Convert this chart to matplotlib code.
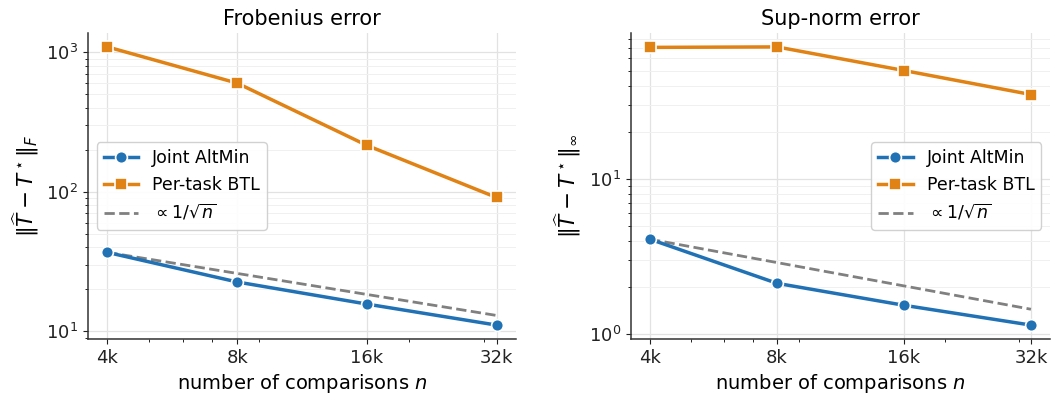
import numpy as np
import matplotlib
matplotlib.use("Agg")
import matplotlib.pyplot as plt
from matplotlib.ticker import FixedLocator, FixedFormatter, NullFormatter

# data
n_vals = [4000, 8000, 16000, 32000]
n_labels = ["4k", "8k", "16k", "32k"]

frob_joint = [36.8, 22.6, 15.7, 11.1]
frob_pertask = [1090, 600, 215, 91]

sup_joint = [4.08, 2.12, 1.53, 1.14]
sup_pertask = [70.5, 71.0, 50.0, 35.0]

BLUE = "#2171b5"
ORANGE = "#e08214"

plt.rcParams["font.family"] = "DejaVu Sans"
plt.rcParams["mathtext.fontset"] = "dejavusans"

fig, axes = plt.subplots(1, 2, figsize=(10.58, 4.0), dpi=100)
axes[0].set_position([88 / 1058, 61 / 400, 428 / 1058, 306 / 400])
axes[1].set_position([631 / 1058, 61 / 400, 419 / 1058, 306 / 400])

panels = [
    (axes[0], frob_joint, frob_pertask, "Frobenius error",
     r"$\|\widehat{T}-T^\star\|_F$", "center left"),
    (axes[1], sup_joint, sup_pertask, "Sup-norm error",
     r"$\|\widehat{T}-T^\star\|_\infty$", "center right"),
]

for ax, joint, pertask, title, ylabel, loc in panels:
    ax.set_xscale("log")
    ax.set_yscale("log")
    ax.plot(n_vals, joint, "-o", color=BLUE, lw=2.5, ms=8.5,
            mec="white", mew=1.2, label="Joint AltMin", zorder=3)
    ax.plot(n_vals, pertask, "-s", color=ORANGE, lw=2.5, ms=8.5,
            mec="white", mew=1.2, label="Per-task BTL", zorder=3)
    ref = joint[0] * np.sqrt(n_vals[0] / np.array(n_vals, dtype=float))
    ax.plot(n_vals, ref, "--", color="grey", lw=2, label=r"$\propto 1/\sqrt{n}$",
            zorder=2)

    ax.xaxis.set_major_locator(FixedLocator(n_vals))
    ax.xaxis.set_major_formatter(FixedFormatter(n_labels))
    ax.xaxis.set_minor_formatter(NullFormatter())

    ax.grid(True, which="major", color="#e2e2e2", lw=0.9)
    ax.grid(True, which="minor", axis="y", color="#f0f0f0", lw=0.7)
    ax.set_axisbelow(True)

    for side in ["top", "right"]:
        ax.spines[side].set_visible(False)
    for side in ["left", "bottom"]:
        ax.spines[side].set_color("#333333")
        ax.spines[side].set_linewidth(1.1)
    ax.tick_params(labelsize=13, colors="#222222")

    ax.set_title(title, fontsize=15)
    ax.set_xlabel(r"number of comparisons $n$", fontsize=14)
    ax.set_ylabel(ylabel, fontsize=15.5)
    ax.legend(loc=loc, fontsize=12.5, framealpha=0.9, edgecolor="#cccccc")

fig.savefig("out.png", dpi=100, facecolor="w")
